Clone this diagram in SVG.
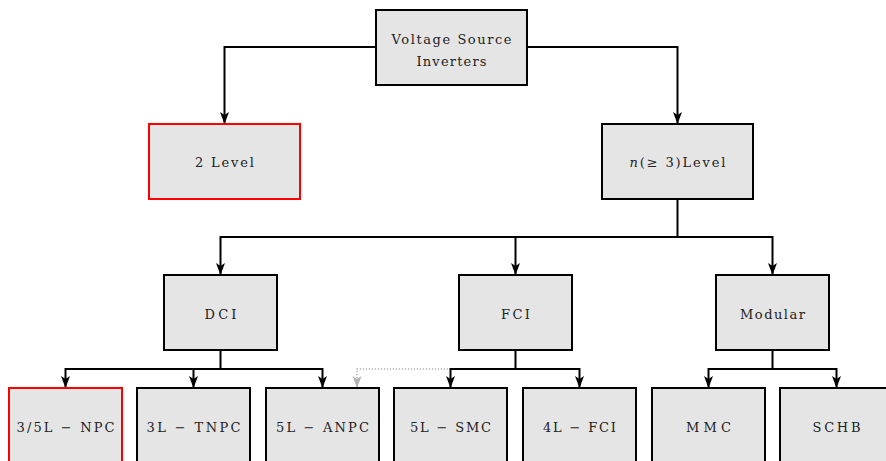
<svg xmlns="http://www.w3.org/2000/svg" width="886" height="461" viewBox="0 0 886 461">
<style>
.box{fill:#e5e5e5;stroke:#000;stroke-width:2}
.red{fill:#e5e5e5;stroke:#ff0000;stroke-width:2}
.t{font-family:"DejaVu Serif","Liberation Serif",serif;font-size:13px;fill:#222;text-anchor:middle}
.c{fill:none;stroke:#000;stroke-width:2}
.d{fill:none;stroke:#b3b3b3;stroke-width:1.6;stroke-dasharray:1.2 1.8}
</style>
<defs>
<marker id="ah" viewBox="0 0 12 10" refX="12" refY="5" markerWidth="12" markerHeight="10" markerUnits="userSpaceOnUse" orient="auto">
<path d="M0,0.5 L12,5 L0,9.5 L3,5 z" fill="#000"/>
</marker>
<marker id="ag" viewBox="0 0 12 10" refX="12" refY="5" markerWidth="12" markerHeight="10" markerUnits="userSpaceOnUse" orient="auto">
<path d="M0,0.5 L12,5 L0,9.5 L3,5 z" fill="#b3b3b3"/>
</marker>
</defs>
<g id="connectors">
<path class="c" d="M376,47 H224.5 V124" marker-end="url(#ah)"/>
<path class="c" d="M527,47 H677.5 V124" marker-end="url(#ah)"/>
<path class="c" d="M677.5,199 V237 H220.5 V275" marker-end="url(#ah)"/>
<path class="c" d="M515.5,237 V275" marker-end="url(#ah)"/>
<path class="c" d="M677.5,237 H772.5 V275" marker-end="url(#ah)"/>
<path class="c" d="M220.5,350 V369 H65.5 V388" marker-end="url(#ah)"/>
<path class="c" d="M193.5,369 V388" marker-end="url(#ah)"/>
<path class="c" d="M220.5,369 H322.5 V388" marker-end="url(#ah)"/>
<path class="d" d="M451,369 H357 V388" marker-end="url(#ag)"/>
<path class="c" d="M515.5,350 V369 H450.5 V388" marker-end="url(#ah)"/>
<path class="c" d="M515.5,369 H579.5 V388" marker-end="url(#ah)"/>
<path class="c" d="M772.5,350 V369 H708.5 V388" marker-end="url(#ah)"/>
<path class="c" d="M772.5,369 H836.5 V388" marker-end="url(#ah)"/>
</g>
<g id="vsi"><rect class="box" x="376" y="10" width="151" height="75"/>
<text class="t" x="451.5" y="44" textLength="120" lengthAdjust="spacing">Voltage Source</text>
<text class="t" x="451.5" y="66" textLength="70" lengthAdjust="spacing">Inverters</text></g>
<g id="level2"><rect class="red" x="149" y="124" width="151" height="75"/>
<text class="t" x="224.5" y="167" textLength="59" lengthAdjust="spacing">2 Level</text></g>
<g id="nlevel"><rect class="box" x="602" y="124" width="151" height="75"/>
<text class="t" x="677.5" y="167" textLength="96" lengthAdjust="spacing"><tspan font-style="italic">n</tspan>(≥ 3)Level</text></g>
<g id="dci"><rect class="box" x="164" y="275" width="113" height="75"/>
<text class="t" x="220.5" y="319" textLength="32" lengthAdjust="spacing">DCI</text></g>
<g id="fci"><rect class="box" x="459" y="275" width="113" height="75"/>
<text class="t" x="515.5" y="319" textLength="29" lengthAdjust="spacing">FCI</text></g>
<g id="modular"><rect class="box" x="716" y="275" width="113" height="75"/>
<text class="t" x="772.5" y="319" textLength="65" lengthAdjust="spacing">Modular</text></g>
<g id="npc"><rect class="red" x="9" y="388" width="113" height="80"/>
<text class="t" x="65.5" y="432" textLength="98" lengthAdjust="spacing">3/5L − NPC</text></g>
<g id="tnpc"><rect class="box" x="137" y="388" width="113" height="80"/>
<text class="t" x="193.5" y="432" textLength="94" lengthAdjust="spacing">3L − TNPC</text></g>
<g id="anpc"><rect class="box" x="266" y="388" width="113" height="80"/>
<text class="t" x="322.5" y="432" textLength="93" lengthAdjust="spacing">5L − ANPC</text></g>
<g id="smc"><rect class="box" x="394" y="388" width="113" height="80"/>
<text class="t" x="450.5" y="432" textLength="81" lengthAdjust="spacing">5L − SMC</text></g>
<g id="fci4"><rect class="box" x="523" y="388" width="113" height="80"/>
<text class="t" x="579.5" y="432" textLength="73" lengthAdjust="spacing">4L − FCI</text></g>
<g id="mmc"><rect class="box" x="652" y="388" width="113" height="80"/>
<text class="t" x="708.5" y="432" textLength="45" lengthAdjust="spacing">MMC</text></g>
<g id="schb"><rect class="box" x="780" y="388" width="113" height="80"/>
<text class="t" x="836.5" y="432" textLength="48" lengthAdjust="spacing">SCHB</text></g>
</svg>
